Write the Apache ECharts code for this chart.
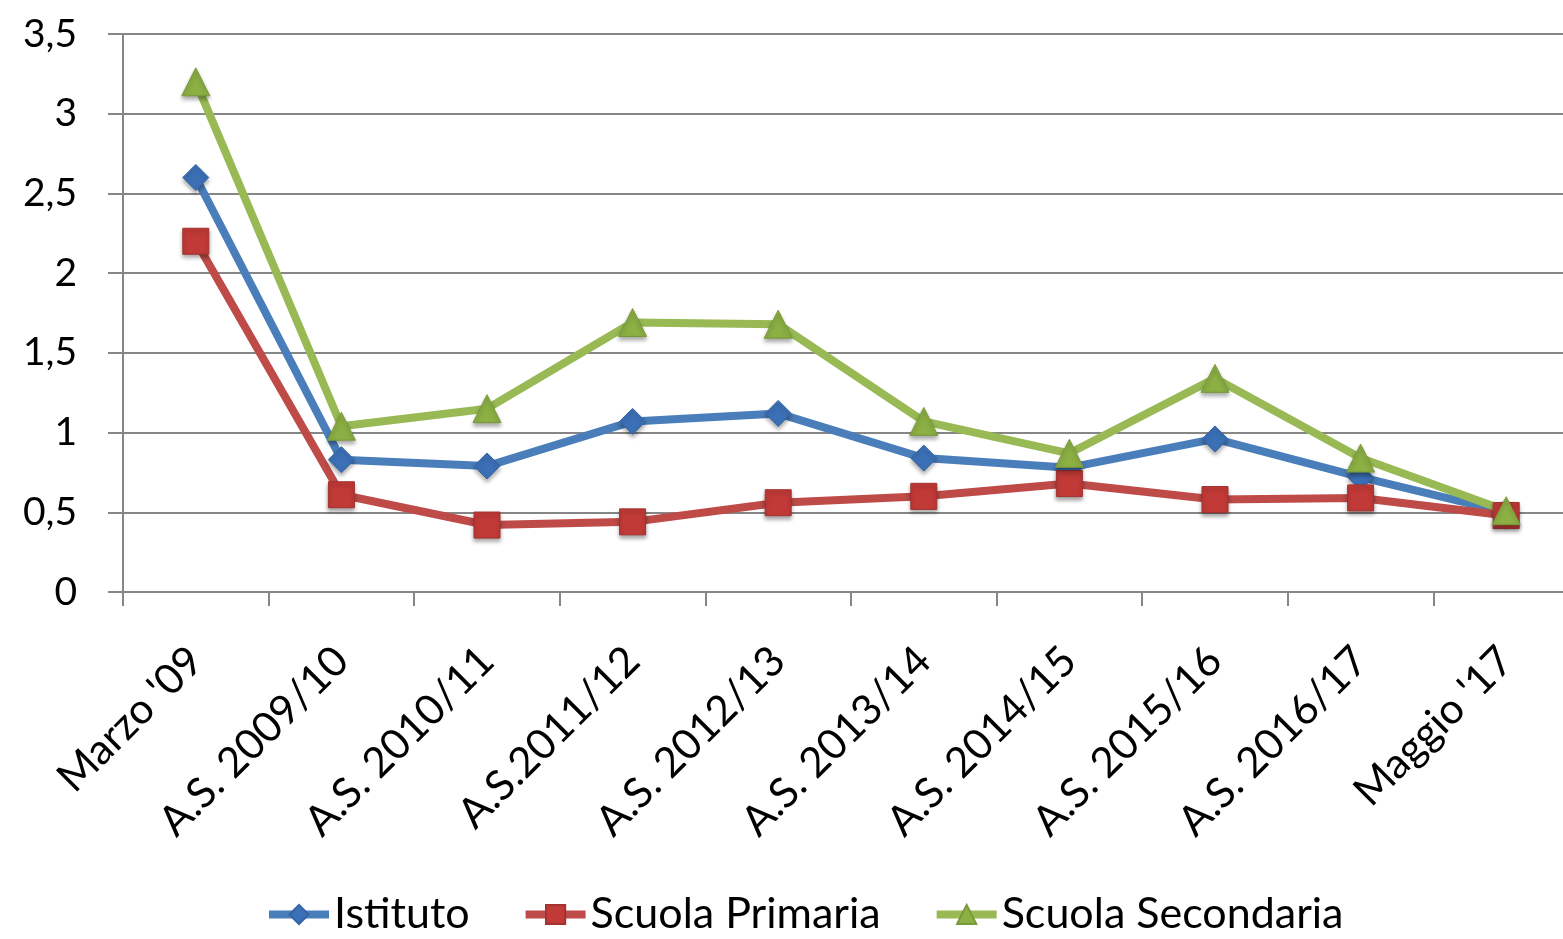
<!DOCTYPE html>
<html>
<head>
<meta charset="utf-8">
<script src="https://cdn.jsdelivr.net/npm/echarts@6/dist/echarts.min.js"></script>
<style>
  html, body { margin: 0; padding: 0; background: #fff; }
  #chart { width: 1563px; height: 939px; }
</style>
</head>
<body>
<div id="chart"></div>
<script>
// categorie asse x
const categories = ["Marzo '09", "A.S. 2009/10", "A.S. 2010/11", "A.S.2011/12", "A.S. 2012/13",
  "A.S. 2013/14", "A.S. 2014/15", "A.S. 2015/16", "A.S. 2016/17", "Maggio '17"];
// valori
const istituto = [2.6, 0.83, 0.79, 1.07, 1.12, 0.84, 0.78, 0.96, 0.72, 0.5];
const primaria = [2.2, 0.61, 0.42, 0.44, 0.56, 0.6, 0.68, 0.58, 0.59, 0.48];
const secondaria = [3.2, 1.04, 1.15, 1.69, 1.68, 1.07, 0.87, 1.34, 0.84, 0.51];

const font = "Lato, 'Open Sans', sans-serif";
const gridColor = "#868686";

// ombra leggera sotto i marker
const shadow = { shadowColor: "rgba(0,0,0,0.35)", shadowBlur: 4, shadowOffsetY: 3 };

const chart = echarts.init(document.getElementById("chart"));
chart.setOption({
  animation: false,
  textStyle: { fontFamily: font },
  // il grafico originale e' tagliato a destra: l'area supera il bordo
  grid: { left: 123, top: 34, width: 1456, bottom: 347, outerBoundsMode: "none", containLabel: false },
  legend: {
    bottom: -2,
    left: 260,
    itemWidth: 60,
    itemHeight: 24,
    itemGap: 52,
    lineStyle: { width: 8 },
    textStyle: { fontSize: 43, color: "#000", fontFamily: font },
    data: ["Istituto", "Scuola Primaria", "Scuola Secondaria"]
  },
  xAxis: {
    type: "category",
    data: categories,
    boundaryGap: true,
    axisLine: { lineStyle: { color: gridColor, width: 2 } },
    axisTick: { show: true, length: 14, lineStyle: { color: gridColor, width: 2 } },
    axisLabel: { rotate: 45, fontSize: 42, color: "#000", margin: 62, interval: 0 }
  },
  yAxis: {
    type: "value",
    min: 0,
    max: 3.5,
    interval: 0.5,
    axisLine: { show: true, lineStyle: { color: gridColor, width: 2 } },
    axisTick: { show: true, length: 15, lineStyle: { color: gridColor, width: 2 } },
    splitLine: { lineStyle: { color: gridColor, width: 2 } },
    axisLabel: {
      fontSize: 39, color: "#000", margin: 46,
      formatter: v => String(v).replace(".", ",")
    }
  },
  series: [
    {
      name: "Istituto", type: "line", data: istituto,
      symbol: "diamond", symbolSize: 26,
      lineStyle: { color: "#4a7ebb", width: 8 },
      itemStyle: Object.assign({ color: "#3b70b6", borderColor: "#3565a5", borderWidth: 1 }, shadow)
    },
    {
      name: "Scuola Primaria", type: "line", data: primaria,
      symbol: "rect", symbolSize: 26,
      lineStyle: { color: "#be4b48", width: 8 },
      itemStyle: Object.assign({ color: "#c23a37", borderColor: "#a33230", borderWidth: 1 }, shadow)
    },
    {
      name: "Scuola Secondaria", type: "line", data: secondaria,
      symbol: "triangle", symbolSize: 28,
      lineStyle: { color: "#98b954", width: 8 },
      itemStyle: Object.assign({ color: "#8cb044", borderColor: "#7a9a3a", borderWidth: 1 }, shadow)
    }
  ]
});
</script>
</body>
</html>
